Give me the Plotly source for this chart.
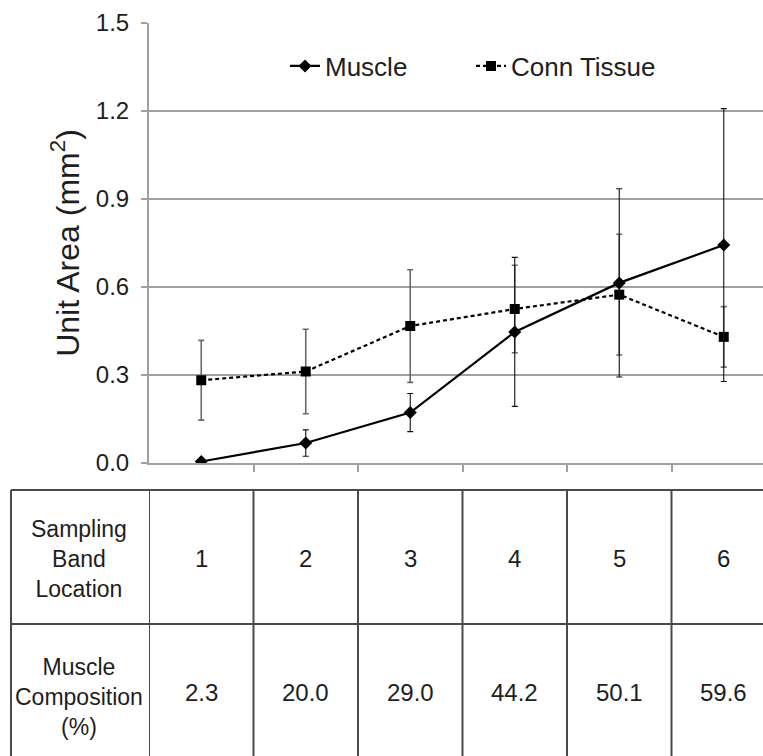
import plotly.graph_objects as go

# ---- data ----
bands = [1, 2, 3, 4, 5, 6]
band_labels = ["1", "2", "3", "4", "5", "6"]
muscle_pct = ["2.3", "20.0", "29.0", "44.2", "50.1", "59.6"]
muscle_area = [0.005, 0.068, 0.172, 0.447, 0.614, 0.743]
muscle_err = [0.0, 0.045, 0.065, 0.254, 0.321, 0.465]
conn_area = [0.282, 0.312, 0.467, 0.525, 0.574, 0.430]
conn_err = [0.136, 0.144, 0.192, 0.149, 0.206, 0.103]
y_ticks = [0.0, 0.3, 0.6, 0.9, 1.2, 1.5]
y_ticktext = ["0.0", "0.3", "0.6", "0.9", "1.2", "1.5"]
row_label_1 = "Sampling<br>Band<br>Location"
row_label_2 = "Muscle<br>Composition<br>(%)"

# ---- layout constants (pixels) ----
W, H = 763, 756
ML, MT, MB = 149, 23, 293
PH = H - MT - MB
PW = W - ML
TXT = "#1e1e1e"
GRID = "#a0a0a0"
TLINE = "#4a4a4a"
FONT = "Liberation Sans, Arial, sans-serif"


def yp(px):
    return (H - MB - px) / PH


def xp(px):
    return (px - ML) / PW


fig = go.Figure()
fig.add_trace(go.Scatter(
    x=bands, y=conn_area, name="Conn Tissue", mode="lines+markers",
    legend="legend2",
    line=dict(color="black", width=2.2, dash="4px,3px"),
    marker=dict(symbol="square", size=10, color="black"),
    error_y=dict(type="data", array=conn_err, visible=True, color="#6a6a6a",
                 thickness=1.6, width=3),
))
fig.add_trace(go.Scatter(
    x=bands, y=muscle_area, name="Muscle", mode="lines+markers",
    legend="legend",
    line=dict(color="black", width=2.2),
    marker=dict(symbol="diamond", size=10, color="black"),
    error_y=dict(type="data", array=muscle_err, visible=True, color="#111111",
                 thickness=1.1, width=3),
))

shapes = []
# table horizontal lines
for ypx in (490, 624, 758):
    shapes.append(dict(type="line", xref="paper", yref="paper",
                       x0=xp(11), x1=1.0, y0=yp(ypx), y1=yp(ypx),
                       line=dict(color=TLINE, width=2)))
# left border and column dividers
shapes.append(dict(type="line", xref="paper", yref="paper",
                   x0=xp(11), x1=xp(11), y0=yp(490), y1=yp(760),
                   line=dict(color=TLINE, width=2)))
for b in [0.5] + [v + 0.5 for v in bands[:-1]]:
    shapes.append(dict(type="line", xref="x", yref="paper",
                       x0=b, x1=b, y0=yp(490), y1=yp(760),
                       line=dict(color=TLINE, width=2)))

annotations = []
annotations.append(dict(xref="paper", yref="paper", x=xp(79), y=yp(559),
                        xanchor="center", yanchor="middle",
                        text=row_label_1, showarrow=False,
                        font=dict(family=FONT, size=23, color=TXT)))
annotations.append(dict(xref="paper", yref="paper", x=xp(79), y=yp(697),
                        xanchor="center", yanchor="middle",
                        text=row_label_2, showarrow=False,
                        font=dict(family=FONT, size=23, color=TXT)))
for b, lab, pct in zip(bands, band_labels, muscle_pct):
    annotations.append(dict(xref="x", yref="paper", x=b, y=yp(558), text=lab,
                            xanchor="center", yanchor="middle",
                            showarrow=False,
                            font=dict(family=FONT, size=24, color=TXT)))
    annotations.append(dict(xref="x", yref="paper", x=b, y=yp(692), text=pct,
                            xanchor="center", yanchor="middle",
                            showarrow=False,
                            font=dict(family=FONT, size=24, color=TXT)))

legend_common = dict(orientation="h", xanchor="left", y=yp(66),
                     yanchor="middle", bgcolor="rgba(0,0,0,0)",
                     font=dict(family=FONT, size=26, color=TXT))

fig.update_layout(
    width=W, height=H,
    margin=dict(l=ML, r=0, t=MT, b=MB, pad=0, autoexpand=False),
    paper_bgcolor="white", plot_bgcolor="white",
    font=dict(family=FONT, color=TXT),
    showlegend=True,
    legend=dict(x=xp(285), **legend_common),
    legend2=dict(x=xp(471), **legend_common),
    xaxis=dict(range=[0.5, 0.5 + 6 * (W - ML) / (776 - ML)],
               tickmode="array", tickvals=[v + 0.5 for v in bands],
               showticklabels=False, ticks="outside", ticklen=7,
               tickcolor=GRID, tickwidth=2, automargin=False,
               showgrid=False, zeroline=False,
               showline=True, linecolor=GRID, linewidth=2),
    yaxis=dict(range=[0, 1.5], tickmode="array", tickvals=y_ticks,
               ticktext=y_ticktext, ticks="outside", ticklen=6,
               tickcolor=GRID, tickwidth=2, ticklabelstandoff=7,
               tickfont=dict(family=FONT, size=24, color=TXT),
               showgrid=True, gridcolor=GRID, gridwidth=2,
               zeroline=False, showline=True, linecolor=GRID, linewidth=2,
               automargin=False,
               title=dict(text="Unit Area (mm<sup>2</sup>)", standoff=7,
                          font=dict(family=FONT, size=32, color=TXT))),
    shapes=shapes, annotations=annotations,
)

fig.write_html("out.html", config={"displayModeBar": False},
               post_script="document.body.style.margin='0px';")
